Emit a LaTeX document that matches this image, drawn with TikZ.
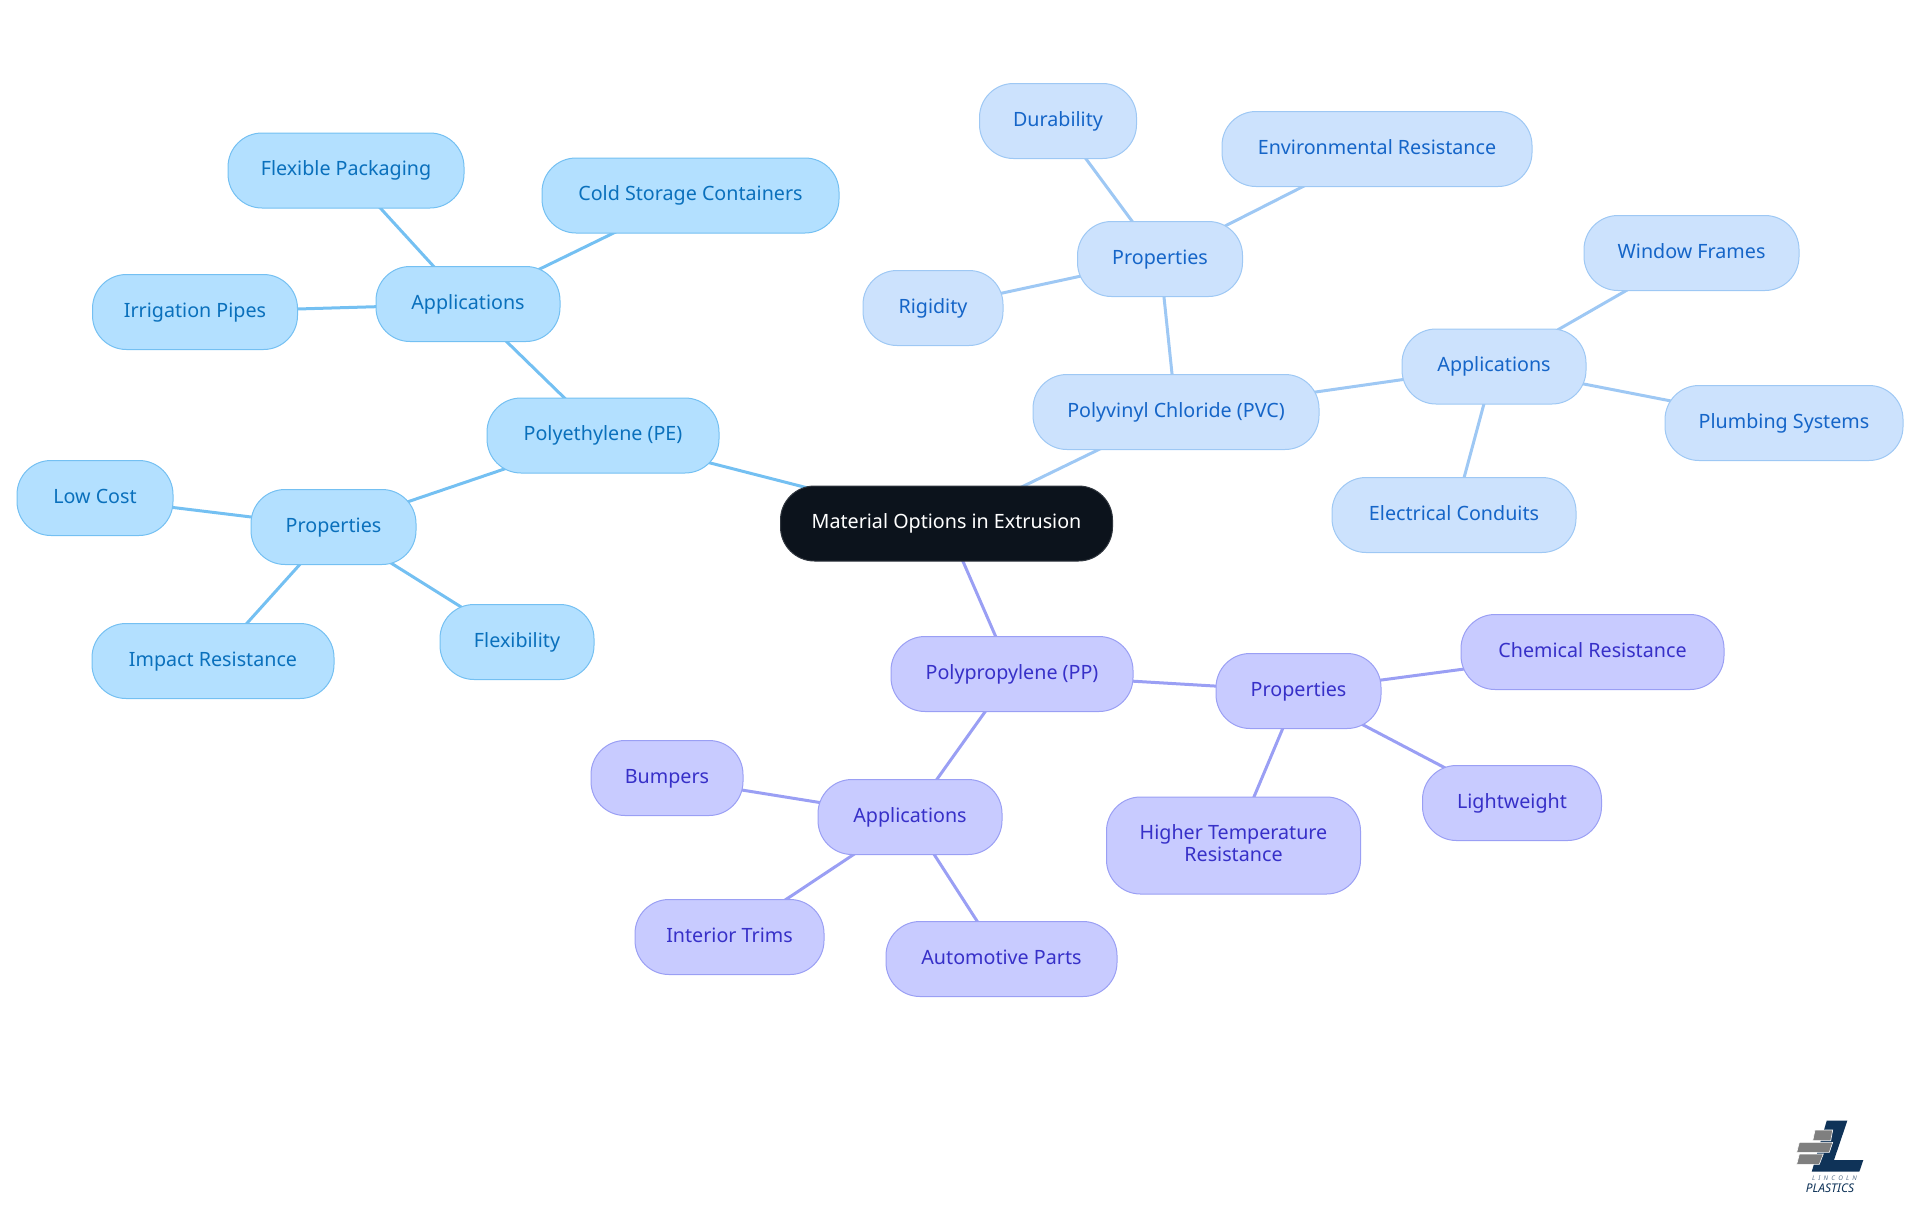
\documentclass[tikz,border=0pt]{standalone}
\usepackage{fontspec}
\setmainfont{Noto Sans}
\usetikzlibrary{backgrounds}
\definecolor{rootfill}{HTML}{0C131C}
\definecolor{pefill}{HTML}{B3E0FF}
\definecolor{pedraw}{HTML}{74C0F2}
\definecolor{petext}{HTML}{0A70BC}
\definecolor{pvcfill}{HTML}{CCE2FD}
\definecolor{pvcdraw}{HTML}{9EC8F4}
\definecolor{pvctext}{HTML}{1565C8}
\definecolor{ppfill}{HTML}{C8CBFF}
\definecolor{ppdraw}{HTML}{9A9FF4}
\definecolor{pptext}{HTML}{3730C8}
\definecolor{logoblue}{HTML}{0F3358}
\definecolor{logogray}{HTML}{7F7F7F}
\tikzset{
    mapnode/.style={rectangle,rounded corners=17pt,line width=0.5pt,inner sep=0pt,
        minimum height=37.5pt,align=center,text height=7.6pt,text depth=2.6pt,
        font=\fontsize{9.85}{11}\selectfont},
    root/.style={mapnode,fill=rootfill,draw=rootfill!85!white,text=white},
    pe/.style={mapnode,fill=pefill,draw=pedraw,text=petext},
    pvc/.style={mapnode,fill=pvcfill,draw=pvcdraw,text=pvctext},
    pp/.style={mapnode,fill=ppfill,draw=ppdraw,text=pptext},
    peline/.style={draw=pedraw,line width=1.5pt},
    pvcline/.style={draw=pvcdraw,line width=1.5pt},
    ppline/.style={draw=ppdraw,line width=1.5pt}
}
\begin{document}
\begin{tikzpicture}[x=0.5pt,y=-0.5pt]
            \useasboundingbox (0,0) rectangle (1920,1215);
            % Mitte
            \node[root,minimum width=166pt] (root) at (946.5,523.5) {Material Options in Extrusion};

            % Polyethylene
            \node[pe,minimum width=116pt] (pe) at (603,435.5) {Polyethylene (PE)};
            \node[pe,minimum width=92pt] (peapp) at (468,304) {Applications};
            \node[pe,minimum width=118pt] (pack) at (346,170.5) {Flexible Packaging};
            \node[pe,minimum width=148.5pt] (cold) at (690.5,195.5) {Cold Storage Containers};
            \node[pe,minimum width=102.5pt] (irri) at (195,312) {Irrigation Pipes};
            \node[pe,minimum width=82.5pt] (peprop) at (333.5,527) {Properties};
            \node[pe,minimum width=78pt] (cost) at (95,498) {Low Cost};
            \node[pe,minimum width=121pt] (impact) at (213,661) {Impact Resistance};
            \node[pe,minimum width=77pt] (flex) at (517,642) {Flexibility};

            % Polyvinyl Chloride
            \node[pvc,minimum width=143pt] (pvc) at (1176,412) {Polyvinyl Chloride (PVC)};
            \node[pvc,minimum width=82.5pt] (pvcprop) at (1160,259) {Properties};
            \node[pvc,minimum width=78.5pt] (dura) at (1058,121) {Durability};
            \node[pvc,minimum width=155pt] (envi) at (1377,149) {Environmental Resistance};
            \node[pvc,minimum width=70pt] (rigid) at (933,308) {Rigidity};
            \node[pvc,minimum width=92pt] (pvcapp) at (1494,366.5) {Applications};
            \node[pvc,minimum width=107.5pt] (window) at (1691.5,253) {Window Frames};
            \node[pvc,minimum width=119pt] (plumb) at (1784,423) {Plumbing Systems};
            \node[pvc,minimum width=122pt] (elec) at (1454,515) {Electrical Conduits};

            % Polypropylene
            \node[pp,minimum width=121pt] (pp) at (1012,674) {Polypropylene (PP)};
            \node[pp,minimum width=82.5pt] (ppprop) at (1298.5,691) {Properties};
            \node[pp,minimum width=131.5pt] (chem) at (1592.5,652) {Chemical Resistance};
            \node[pp,minimum width=89.5pt] (light) at (1512,803) {Lightweight};
            \node[pp,minimum width=127pt,minimum height=48.5pt,text height=,text depth=2.5pt] (temp) at (1233.5,845.5) {Higher Temperature\\Resistance};
            \node[pp,minimum width=92pt] (ppapp) at (910,817) {Applications};
            \node[pp,minimum width=76pt] (bump) at (667,778) {Bumpers};
            \node[pp,minimum width=94.5pt] (trim) at (729.5,937) {Interior Trims};
            \node[pp,minimum width=115.5pt] (auto) at (1001.5,959) {Automotive Parts};

            % Verbindungen
            \begin{scope}[on background layer]
                \draw[peline] (root.center) -- (pe.center);
                \draw[peline] (pe.center) -- (peapp.center);
                \draw[peline] (peapp.center) -- (pack.center);
                \draw[peline] (peapp.center) -- (cold.center);
                \draw[peline] (peapp.center) -- (irri.center);
                \draw[peline] (pe.center) -- (peprop.center);
                \draw[peline] (peprop.center) -- (cost.center);
                \draw[peline] (peprop.center) -- (impact.center);
                \draw[peline] (peprop.center) -- (flex.center);

                \draw[pvcline] (root.center) -- (pvc.center);
                \draw[pvcline] (pvc.center) -- (pvcprop.center);
                \draw[pvcline] (pvcprop.center) -- (dura.center);
                \draw[pvcline] (pvcprop.center) -- (envi.center);
                \draw[pvcline] (pvcprop.center) -- (rigid.center);
                \draw[pvcline] (pvc.center) -- (pvcapp.center);
                \draw[pvcline] (pvcapp.center) -- (window.center);
                \draw[pvcline] (pvcapp.center) -- (plumb.center);
                \draw[pvcline] (pvcapp.center) -- (elec.center);

                \draw[ppline] (root.center) -- (pp.center);
                \draw[ppline] (pp.center) -- (ppprop.center);
                \draw[ppline] (ppprop.center) -- (chem.center);
                \draw[ppline] (ppprop.center) -- (light.center);
                \draw[ppline] (ppprop.center) -- (temp.center);
                \draw[ppline] (pp.center) -- (ppapp.center);
                \draw[ppline] (ppapp.center) -- (bump.center);
                \draw[ppline] (ppapp.center) -- (trim.center);
                \draw[ppline] (ppapp.center) -- (auto.center);
            \end{scope}

            % Logo
            \fill[logoblue] (1826.7,1120.7) -- (1847.3,1120.7) -- (1834,1160) -- (1863.3,1160) -- (1859.3,1171.7) -- (1811.7,1171.7) -- cycle;
            \filldraw[logogray,draw=white,line width=0.3pt] (1815,1130) -- (1832.7,1130) -- (1830.7,1140.7) -- (1812.7,1140.7) -- cycle;
            \filldraw[logogray,draw=white,line width=0.3pt] (1799.3,1142.3) -- (1832.7,1142.3) -- (1829.3,1152.3) -- (1796.7,1152.3) -- cycle;
            \filldraw[logogray,draw=white,line width=0.3pt] (1799.3,1154) -- (1823.3,1154) -- (1819.3,1164.3) -- (1796.7,1164.3) -- cycle;
            \node[inner sep=0pt,text=logoblue!70!white,font=\fontsize{3.2}{4}\selectfont\itshape] (lincoln) at (1834.5,1178.5) {L\,\,\,I\,\,\,N\,\,\,C\,\,\,O\,\,\,L\,\,\,N};
            \node[inner sep=0pt,text=logoblue,font=\fontsize{6}{7}\selectfont\bfseries\itshape] (plastics) at (1830,1188.5) {PLASTICS};
\end{tikzpicture}
\end{document}
